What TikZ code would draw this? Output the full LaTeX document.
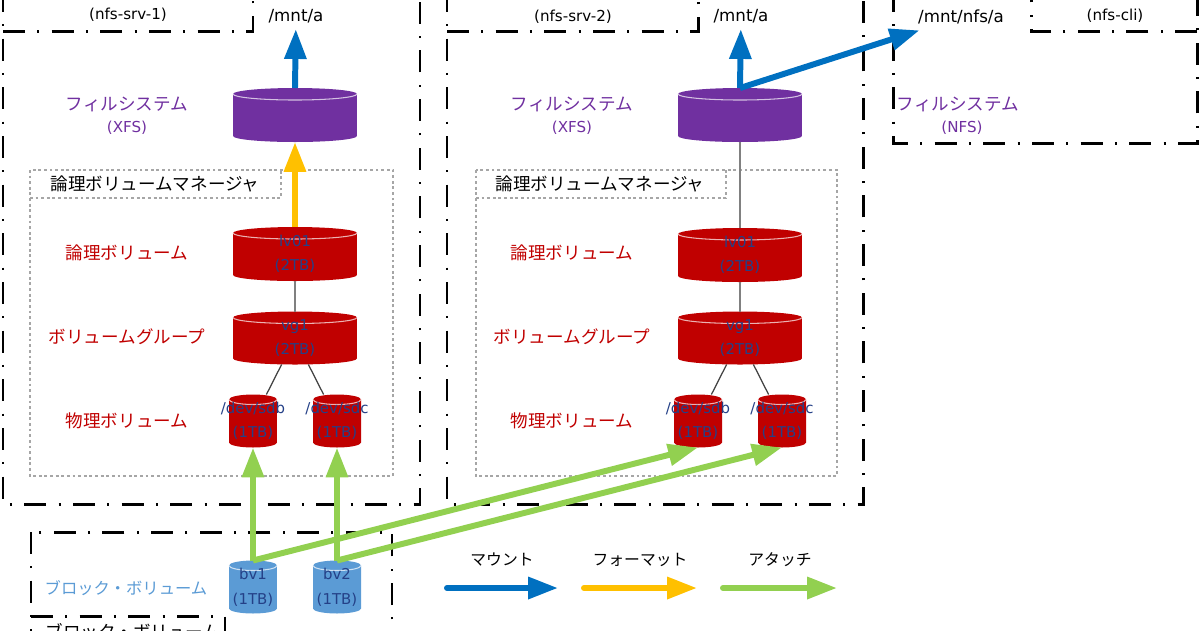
\documentclass[tikz,border=0pt]{standalone}
\usepackage{fontspec}
\setmainfont{DejaVu Sans}
\newfontfamily\jp{Noto Sans CJK JP}
\usetikzlibrary{arrows.meta}

\definecolor{fspurple}{RGB}{112,48,160}
\definecolor{lvmred}{RGB}{192,0,0}
\definecolor{bvblue}{RGB}{91,155,213}
\definecolor{mountblue}{RGB}{0,112,192}
\definecolor{fmtyellow}{RGB}{255,192,0}
\definecolor{attgreen}{RGB}{146,208,80}
\definecolor{disknavy}{RGB}{36,64,135}

\tikzset{
	hostbox/.style={draw=black, line width=1.7pt, dash pattern=on 12.5pt off 7pt on 1.2pt off 7pt},
	lvmbox/.style={draw=black!35, line width=0.6pt, dash pattern=on 1.6pt off 1.6pt},
	drumbox/.style={inner sep=0pt, outer sep=0pt},
	disktext/.style={text=disknavy, align=center, font=\fontsize{8.5pt}{14pt}\selectfont},
	jplabel/.style={font=\jp\fontsize{10pt}{12pt}\selectfont},
	keylabel/.style={font=\jp\fontsize{9pt}{11pt}\selectfont},
	latin/.style={font=\fontsize{8.6pt}{10pt}\selectfont},
	mntlabel/.style={font=\fontsize{9.5pt}{11pt}\selectfont},
	mount/.style={draw=mountblue, line width=3.4pt, -{Triangle[length=17pt,width=12pt]}},
	format/.style={draw=fmtyellow, line width=3.4pt, -{Triangle[length=17pt,width=12pt]}},
	attach/.style={draw=attgreen, line width=3.4pt, -{Triangle[length=17pt,width=12pt]}},
	link/.style={draw=black!50, line width=1.1pt},
	pvlink/.style={draw=black!75, line width=0.7pt}
}

% name, colour, position, width, height, ellipse radius, text
\newcommand{\drum}[7]{%
	\node[drumbox, minimum width=#4, minimum height=#5] (#1) at (#3) {};
	\fill[#2] ([yshift=-#6]#1.north west) -- ([yshift=#6]#1.south west)
		arc[start angle=180, end angle=360, x radius=#4/2, y radius=#6]
		-- ([yshift=-#6]#1.north east)
		arc[start angle=0, end angle=180, x radius=#4/2, y radius=#6] -- cycle;
	\draw[white!70!#2, line width=0.6pt] ([yshift=-#6]#1.north west)
		arc[start angle=180, end angle=360, x radius=#4/2, y radius=#6];
	\node[disktext] (#1text) at (#1) {#7};
}

\begin{document}
\begin{tikzpicture}[x=0.02cm, y=-0.02cm]
	\useasboundingbox (0,0) rectangle (1200,630);
	\clip (0,0) rectangle (1200,630);

	% host frames
	\draw[hostbox] (3,-10) rectangle (420,504);
	\draw[hostbox] (3,31) -- (253,31) -- (253,-10);
	\draw[hostbox] (447,-10) rectangle (863,504);
	\draw[hostbox] (447,31) -- (698,31) -- (698,-10);
	\draw[hostbox] (893,-10) rectangle (1197,143);
	\draw[hostbox] (1197,31) -- (1031,31) -- (1031,-10);
	\draw[hostbox] (31,532) rectangle (392,680);
	\draw[hostbox] (31,616) -- (225,616) -- (225,680);

	% LVM frames
	\draw[lvmbox] (30,170) rectangle (393,476);
	\draw[lvmbox] (30,198) -- (281,198) -- (281,170);
	\draw[lvmbox] (476,170) rectangle (837,476);
	\draw[lvmbox] (476,198) -- (726,198) -- (726,170);

	% nfs-srv-1
	\node[latin] (hosta) at (128,15) {(nfs-srv-1)};
	\node[mntlabel] (mnta) at (296,16) {/mnt/a};
	\node[jplabel, text=fspurple] (fsnamea) at (127,104) {フィルシステム};
	\node[latin, text=fspurple] (fstypea) at (127,128) {(XFS)};
	\node[jplabel] (lvma) at (155,184) {論理ボリュームマネージャ};
	\node[jplabel, text=lvmred] (lvnamea) at (127,253) {論理ボリューム};
	\node[jplabel, text=lvmred] (vgnamea) at (127,337) {ボリュームグループ};
	\node[jplabel, text=lvmred] (pvnamea) at (127,421) {物理ボリューム};
	\drum{fsa}{fspurple}{295,115}{2.48cm}{1.08cm}{0.12cm}{}
	\drum{lva}{lvmred}{295,254}{2.48cm}{1.08cm}{0.12cm}{lv01\\(2TB)}
	\drum{vga}{lvmred}{295,338}{2.48cm}{1.06cm}{0.12cm}{vg1\\(2TB)}
	\drum{sdba}{lvmred}{253,421}{0.96cm}{1.06cm}{0.1cm}{/dev/sdb\\(1TB)}
	\drum{sdca}{lvmred}{337,421}{0.96cm}{1.06cm}{0.1cm}{/dev/sdc\\(1TB)}

	% nfs-srv-2
	\node[latin] (hostb) at (573,17) {(nfs-srv-2)};
	\node[mntlabel] (mntb) at (741,16) {/mnt/a};
	\node[jplabel, text=fspurple] (fsnameb) at (572,104) {フィルシステム};
	\node[latin, text=fspurple] (fstypeb) at (572,128) {(XFS)};
	\node[jplabel] (lvmb) at (600,184) {論理ボリュームマネージャ};
	\node[jplabel, text=lvmred] (lvnameb) at (572,253) {論理ボリューム};
	\node[jplabel, text=lvmred] (vgnameb) at (572,337) {ボリュームグループ};
	\node[jplabel, text=lvmred] (pvnameb) at (572,421) {物理ボリューム};
	\drum{fsb}{fspurple}{740,115}{2.48cm}{1.08cm}{0.12cm}{}
	\drum{lvb}{lvmred}{740,255}{2.48cm}{1.08cm}{0.12cm}{lv01\\(2TB)}
	\drum{vgb}{lvmred}{740,338}{2.48cm}{1.06cm}{0.12cm}{vg1\\(2TB)}
	\drum{sdbb}{lvmred}{698,421}{0.96cm}{1.06cm}{0.1cm}{/dev/sdb\\(1TB)}
	\drum{sdcb}{lvmred}{782,421}{0.96cm}{1.06cm}{0.1cm}{/dev/sdc\\(1TB)}

	% nfs-cli
	\node[mntlabel] (mntc) at (961,17) {/mnt/nfs/a};
	\node[latin] (hostc) at (1115,16) {(nfs-cli)};
	\node[jplabel, text=fspurple] (fsnamec) at (958,104) {フィルシステム};
	\node[latin, text=fspurple] (fstypec) at (962,128) {(NFS)};

	% block volumes
	\node[jplabel, font=\jp\fontsize{9.3pt}{11pt}\selectfont, text=bvblue] (bvname) at (126,588) {ブロック・ボリューム};
	\node[jplabel] (bvtab) at (133,632) {ブロック・ボリューム};
	\drum{bva}{bvblue}{253,587}{0.96cm}{1.06cm}{0.1cm}{bv1\\(1TB)}
	\drum{bvb}{bvblue}{337,587}{0.96cm}{1.06cm}{0.1cm}{bv2\\(1TB)}

	% connectors
	\draw[mount] (fsa.north) -- (mnta);
	\draw[mount] (fsb.north) -- (mntb);
	\draw[mount] (fsb.north) -- (mntc);
	\draw[format] (lva) -- (fsa);
	\draw[link] (fsb) -- (lvb);
	\draw[link] (lva) -- (vga);
	\draw[link] (lvb) -- (vgb);
	\draw[pvlink] (vga) -- (sdba);
	\draw[pvlink] (vga) -- (sdca);
	\draw[pvlink] (vgb) -- (sdbb);
	\draw[pvlink] (vgb) -- (sdcb);
	\draw[attach] (bva) -- (sdba);
	\draw[attach] (bvb) -- (sdca);
	\draw[attach] (bva.north) -- (sdbb.south);
	\draw[attach] (bvb.north) -- (sdcb.south);

	% legend
	\node[keylabel] (keymount) at (502,560) {マウント};
	\node[keylabel] (keyformat) at (640,560) {フォーマット};
	\node[keylabel] (keyattach) at (780,560) {アタッチ};
	\coordinate (mounts) at (447,588);
	\coordinate (mounte) at (558,588);
	\coordinate (formats) at (584,588);
	\coordinate (formate) at (697,588);
	\coordinate (attachs) at (723,588);
	\coordinate (attache) at (837,588);
	\draw[mount, line cap=round] (mounts) -- (mounte);
	\draw[format, line cap=round] (formats) -- (formate);
	\draw[attach, line cap=round] (attachs) -- (attache);
\end{tikzpicture}
\end{document}
